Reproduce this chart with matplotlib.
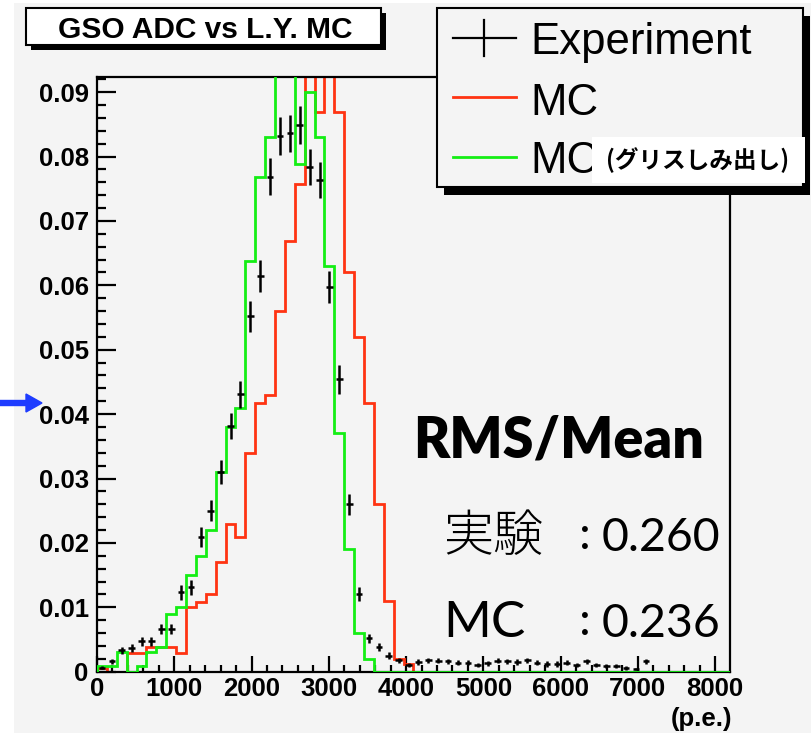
import numpy as np
import matplotlib
matplotlib.use("Agg")
import matplotlib.pyplot as plt
import matplotlib.transforms as mtransforms
from matplotlib.patches import Rectangle, FancyArrow
from matplotlib.lines import Line2D
from matplotlib.ticker import MultipleLocator, FuncFormatter

# histogram definition: 64 bins over 0..8192 p.e.
x_min, x_max, n_bins = 0, 8192, 64

experiment = [0.0006, 0.0016, 0.0033, 0.0037, 0.0047, 0.0047, 0.0066, 0.0066,
              0.0123, 0.0131, 0.0209, 0.0250, 0.0310, 0.0381, 0.0431, 0.0552,
              0.0615, 0.0769, 0.0832, 0.0836, 0.0849, 0.0784, 0.0763, 0.0597,
              0.0454, 0.0260, 0.0121, 0.0052, 0.0038, 0.0025, 0.0018, 0.0010,
              0.0015, 0.0018, 0.0017, 0.0016, 0.0014, 0.0014, 0.0010, 0.0013,
              0.0017, 0.0016, 0.0015, 0.0018, 0.0014, 0.0012, 0.0012, 0.0014,
              0.0010, 0.0016, 0.0010, 0.0009, 0.0009, 0.0006, 0.0004, 0.0016,
              0, 0, 0, 0, 0, 0, 0, 0]
experiment_err = [0.00025, 0.0004, 0.0006, 0.0006, 0.0007, 0.0007, 0.0008, 0.0008,
                  0.0011, 0.0012, 0.0015, 0.0016, 0.0018, 0.0020, 0.0021, 0.0024,
                  0.0025, 0.0028, 0.0029, 0.0029, 0.0029, 0.0028, 0.0028, 0.0025,
                  0.0022, 0.0016, 0.0011, 0.0007, 0.0006, 0.0005, 0.0004, 0.0003,
                  0.0004, 0.0004, 0.0004, 0.0004, 0.0004, 0.0004, 0.0003, 0.0004,
                  0.0004, 0.0004, 0.0004, 0.0004, 0.0004, 0.0004, 0.0004, 0.0004,
                  0.0003, 0.0004, 0.0003, 0.0003, 0.0003, 0.0003, 0.0002, 0.0004,
                  0, 0, 0, 0, 0, 0, 0, 0]
mc = [0.0005, 0.0, 0.0, 0.0029, 0.0029, 0.0039, 0.0039, 0.0039,
      0.0029, 0.0100, 0.0109, 0.0120, 0.0170, 0.0229, 0.0209, 0.0339,
      0.0418, 0.0429, 0.0560, 0.0669, 0.0758, 0.0950, 0.0869, 0.0960,
      0.0869, 0.0620, 0.0519, 0.0418, 0.0260, 0.0110, 0.0020, 0.0012] + [0.0] * 32
mc_grease = [0.0009, 0.0009, 0.0030, 0.0, 0.0009, 0.0030, 0.0039, 0.0090,
             0.0100, 0.0150, 0.0180, 0.0220, 0.0310, 0.0380, 0.0410, 0.0638,
             0.0769, 0.0830, 0.0960, 0.0980, 0.0789, 0.0900, 0.0830, 0.0630,
             0.0370, 0.0190, 0.0060, 0.0020] + [0.0] * 36

title = "GSO ADC vs L.Y. MC"
legend_labels = ["Experiment", "MC", "MC"]
grease_note = "(グリスしみ出し)"
rms_rows = [("実験", "0.260"), ("MC", "0.236")]

RED = "#ff3312"
GREEN = "#14ee14"
PAD = "#f4f4f4"
W, H = 812, 733

fig = plt.figure(figsize=(W / 100, H / 100), dpi=100)
fig.patch.set_facecolor("white")
# image-pixel coordinates (origin top-left)
pix = mtransforms.Affine2D().scale(1 / W, -1 / H).translate(0, 1) + fig.transFigure

fig.add_artist(Rectangle((14, 3), W - 14, H - 3, transform=pix,
                         facecolor=PAD, edgecolor="none", zorder=-10))

ax = fig.add_axes([97 / W, 1 - 671.7 / H, 633 / W, (671.7 - 76.7) / H])
ax.set_facecolor(PAD)

edges = np.linspace(x_min, x_max, n_bins + 1)
centers = 0.5 * (edges[:-1] + edges[1:])
exp = np.array(experiment)
err = np.array(experiment_err)
mask = exp > 0

ax.stairs(mc, edges, color=RED, lw=2.0, baseline=0, zorder=2)
ax.stairs(mc_grease, edges, color=GREEN, lw=2.0, baseline=0, zorder=3)
ax.errorbar(centers[mask], exp[mask], yerr=err[mask], xerr=43, fmt="none",
            ecolor="black", elinewidth=1.8, capsize=0, zorder=4)

ax.set_xlim(x_min, x_max)
ax.set_ylim(0, 0.0924)
ax.xaxis.set_major_locator(MultipleLocator(1000))
ax.xaxis.set_minor_locator(MultipleLocator(200))
ax.yaxis.set_major_locator(MultipleLocator(0.01))
ax.yaxis.set_minor_locator(MultipleLocator(0.002))
ax.yaxis.set_major_formatter(FuncFormatter(lambda v, p: "0" if abs(v) < 1e-9 else f"{v:.2f}"))
ax.xaxis.set_major_formatter(FuncFormatter(lambda v, p: f"{v:.0f}"))
ax.tick_params(which="both", direction="in", top=False, right=False, width=1.6, color="black")
ax.tick_params(axis="x", which="major", length=11.5, pad=4)
ax.tick_params(axis="x", which="minor", length=5)
ax.tick_params(axis="y", which="major", length=13.5, pad=6)
ax.tick_params(axis="y", which="minor", length=6.8)
for lab in ax.get_xticklabels() + ax.get_yticklabels():
    lab.set_fontfamily("Liberation Sans")
    lab.set_fontweight("bold")
    lab.set_fontsize(18.5)
for sp in ax.spines.values():
    sp.set_linewidth(1.6)

fig.text(732, 707, "(p.e.)", transform=pix, ha="right", va="top",
         fontfamily="Liberation Sans", fontweight="bold", fontsize=18.5)

# title box with shadow
fig.add_artist(Rectangle((31, 13), 355, 37, transform=pix, facecolor="black", edgecolor="none", zorder=5))
fig.add_artist(Rectangle((26, 8), 355, 37, transform=pix, facecolor="white", edgecolor="black", lw=1.5, zorder=6))
fig.text(205, 38, title, transform=pix, ha="center", va="baseline",
         fontfamily="Liberation Sans", fontweight="bold", fontsize=21.5, zorder=7)

# legend box with shadow
fig.add_artist(Rectangle((444, 16), 366, 179, transform=pix, facecolor="black", edgecolor="none", zorder=5))
fig.add_artist(Rectangle((437, 8), 366, 179, transform=pix, facecolor=PAD, edgecolor="black", lw=1.5, zorder=6))
fig.add_artist(Line2D([453, 516], [38, 38], transform=pix, color="black", lw=1.6, zorder=7))
fig.add_artist(Line2D([484, 484], [20, 56], transform=pix, color="black", lw=1.6, zorder=7))
fig.add_artist(Line2D([453, 516], [97, 97], transform=pix, color=RED, lw=2.0, zorder=7))
fig.add_artist(Line2D([453, 516], [157, 157], transform=pix, color=GREEN, lw=2.0, zorder=7))
for y, lab in zip([54, 115, 173], legend_labels):
    fig.text(530, y, lab, transform=pix, ha="left", va="baseline",
             fontfamily="Liberation Sans", fontsize=31.5, zorder=7)
fig.add_artist(Rectangle((592, 137), 213, 46, transform=pix, facecolor="white", edgecolor="none", zorder=8))
fig.text(698, 160, grease_note, transform=pix, ha="center", va="center",
         fontfamily=["Noto Sans CJK JP", "DejaVu Sans"], fontweight="bold", fontsize=17, zorder=9)

# RMS/Mean annotation
fig.text(413, 458, "RMS/Mean", transform=pix, ha="left", va="baseline",
         fontfamily="Lato", fontweight="heavy", fontsize=40, zorder=7)
for y, (name, val) in zip([551, 637], rms_rows):
    if name == "MC":
        fig.text(443, y, name, transform=pix, ha="left", va="baseline",
                 fontfamily="Lato", fontsize=37, zorder=7)
    else:
        fig.text(443, y, name, transform=pix, ha="left", va="baseline",
                 fontfamily=["Noto Sans CJK JP", "Lato"], fontweight="light",
                 fontsize=36, zorder=7)
    fig.text(585, y - 2, ":", transform=pix, ha="center", va="baseline",
             fontfamily="Lato", fontsize=34, zorder=7)
    fig.text(720, y, val, transform=pix, ha="right", va="baseline",
             fontfamily="Lato", fontsize=33.5, zorder=7)

# blue arrow on the left edge
fig.add_artist(FancyArrow(0, 1 - 403 / H, 42 / W, 0, width=5 / H, head_width=18 / H,
                          head_length=16 / W, length_includes_head=True,
                          transform=fig.transFigure, color="#1e3cff", zorder=7))

fig.savefig("out.png", dpi=100, facecolor=fig.get_facecolor())
